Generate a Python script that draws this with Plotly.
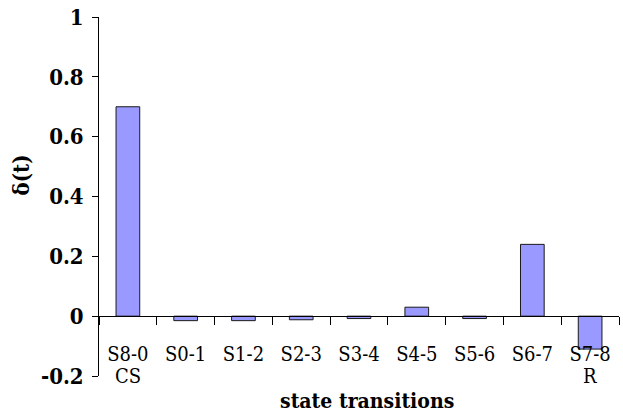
import plotly.graph_objects as go

# State-transition categories and their δ(t) values
transitions = ["S8-0", "S0-1", "S1-2", "S2-3", "S3-4", "S4-5", "S5-6", "S6-7", "S7-8"]
delta_values = [0.70, -0.015, -0.015, -0.012, -0.008, 0.03, -0.008, 0.24, -0.11]
# Second-line notes below selected transitions
notes = ["CS", "", "", "", "", "", "", "", "R"]
y_tick_values = [-0.2, 0, 0.2, 0.4, 0.6, 0.8, 1]
y_tick_labels = ["-0.2", "0", "0.2", "0.4", "0.6", "0.8", "1"]

SERIF = "DejaVu Serif Condensed, DejaVu Serif, serif"

fig = go.Figure()
fig.add_trace(go.Bar(
    x=transitions,
    y=delta_values,
    width=0.41,
    marker=dict(color="#9999FF", line=dict(color="#1a1a1a", width=1)),
    showlegend=False,
    hoverinfo="x+y",
))

y_min, y_max = -0.2, 1.0
zero_pos = (0 - y_min) / (y_max - y_min)

fig.update_layout(
    width=623,
    height=412,
    margin=dict(l=99, r=4, t=15, b=36),
    paper_bgcolor="white",
    plot_bgcolor="white",
    font=dict(family=SERIF, color="black"),
    xaxis=dict(
        type="category",
        range=[-0.5, len(transitions) - 0.5],
        anchor="free",
        position=zero_pos,
        showline=True,
        linecolor="black",
        linewidth=1,
        showgrid=False,
        zeroline=False,
        ticks="outside",
        tickson="boundaries",
        ticklen=8,
        tickwidth=1,
        tickcolor="black",
        ticklabelstandoff=20,
        tickfont=dict(family=SERIF, size=20, color="black"),
    ),
    yaxis=dict(
        range=[y_min, y_max],
        tickvals=y_tick_values,
        ticktext=y_tick_labels,
        showline=True,
        linecolor="black",
        linewidth=1,
        showgrid=False,
        zeroline=False,
        ticks="outside",
        ticklen=6,
        tickwidth=1,
        tickcolor="black",
        ticklabelstandoff=4,
        ticklabeloverflow="allow",
        tickfont=dict(family=SERIF, size=22, color="black", weight="bold"),
    ),
)

# Second line of the category labels
for cat, note in zip(transitions, notes):
    if note:
        fig.add_annotation(
            x=cat, y=0, xref="x", yref="paper",
            text=note, showarrow=False,
            yanchor="middle", yshift=0,
            font=dict(family=SERIF, size=20, color="black"),
        )

# Axis titles
fig.add_annotation(
    x=0.515, y=0, xref="paper", yref="paper",
    text="<b>state transitions</b>", showarrow=False,
    yanchor="top", yshift=-10,
    font=dict(family=SERIF, size=21, color="black"),
)
fig.add_annotation(
    x=-0.15, y=0.47, xref="paper", yref="y",
    text="<b>δ(t)</b>", showarrow=False, textangle=-90,
    xanchor="center", yanchor="middle",
    font=dict(family=SERIF, size=22, color="black"),
)

fig.write_html("out.html")
